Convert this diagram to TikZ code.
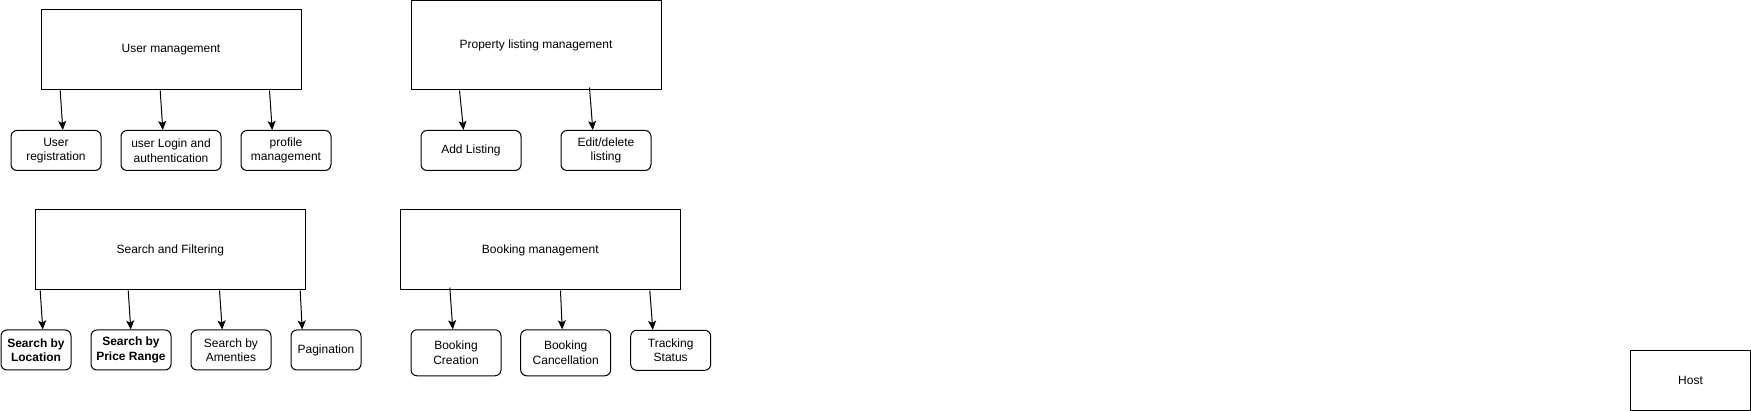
\documentclass[tikz,border=0pt]{standalone}
\usepackage{fontspec}
\setmainfont{Liberation Sans}
\usetikzlibrary{arrows.meta}
\begin{document}
\begin{tikzpicture}[x=1pt,y=-1pt,line width=1pt,font=\fontsize{12}{14.5}\selectfont]
	\tikzstyle{module_style} = [draw, rectangle, inner sep=0pt, align=center]
	\tikzstyle{task_style} = [draw, rectangle, rounded corners=6pt, inner sep=0pt, align=center]
	\tikzstyle{bold_style} = [font=\fontsize{12}{14.5}\selectfont\bfseries]
	\tikzstyle{link_style} = [-{Stealth[length=9pt,width=8pt,inset=2pt]}, line width=1pt]
	\useasboundingbox (0,0) rectangle (1751,411);
	%%% modules
	\node[module_style, minimum width=260pt, minimum height=80pt] (users) at (171,50) {User management};
	\node[module_style, minimum width=250pt, minimum height=89.5pt] (listing) at (536,45.25) {Property listing management};
	\node[module_style, minimum width=270pt, minimum height=80pt] (search) at (170.3,250) {Search and Filtering};
	\node[module_style, minimum width=280pt, minimum height=80pt] (booking) at (540.3,250) {Booking management};
	\node[module_style, minimum width=120pt, minimum height=60pt] (host) at (1690.5,380.5) {Host};
	%%% tasks
	\node[task_style, minimum width=90pt, minimum height=40pt] (reg) at (56,150.5) {User\\registration};
	\node[task_style, minimum width=100pt, minimum height=40pt] (login) at (171,150.5) {user Login and\\authentication};
	\node[task_style, minimum width=90pt, minimum height=40pt] (profile) at (286,150.5) {profile\\management};
	\node[task_style, minimum width=100pt, minimum height=40pt] (add) at (471,150.5) {Add Listing};
	\node[task_style, minimum width=90pt, minimum height=40pt] (edit) at (606,150.5) {Edit/delete\\listing};
	\node[task_style, bold_style, minimum width=70pt, minimum height=40pt] (loc) at (36,350) {Search by\\Location};
	\node[task_style, bold_style, minimum width=80pt, minimum height=40pt] (price) at (131,350) {Search by\\Price Range};
	\node[task_style, minimum width=80pt, minimum height=40pt] (amen) at (231,350) {Search by\\Amenties};
	\node[task_style, minimum width=70pt, minimum height=40pt] (page) at (326,350) {Pagination};
	\node[task_style, minimum width=90pt, minimum height=46pt] (create) at (456,352.8) {Booking\\Creation};
	\node[task_style, minimum width=90pt, minimum height=46pt] (cancel) at (565.7,352.8) {Booking\\Cancellation};
	\node[task_style, minimum width=80pt, minimum height=40pt] (track) at (670.7,350.3) {Tracking\\Status};
	%%% links
	\foreach \p/\a/\c/\b in {users/19.7/reg/52.3, users/119.7/login/42.3, users/229/profile/31.7,
		listing/49/add/43, search/5.4/loc/42.3, search/93.4/price/40.3,
		search/184.7/amen/31.7, search/265.4/page/11.7, booking/160.7/cancel/42, booking/250/track/22.6}{
		\draw[link_style] ([xshift=\a pt]\p.south west) -- ([xshift=\b pt]\c.north west);
	}
	\draw[link_style] ([xshift=179pt,yshift=3pt]listing.south west) -- ([xshift=32.3pt]edit.north west);
	\draw[link_style] ([xshift=50pt,yshift=3pt]booking.south west) -- ([xshift=42.3pt]create.north west);
\end{tikzpicture}
\end{document}
